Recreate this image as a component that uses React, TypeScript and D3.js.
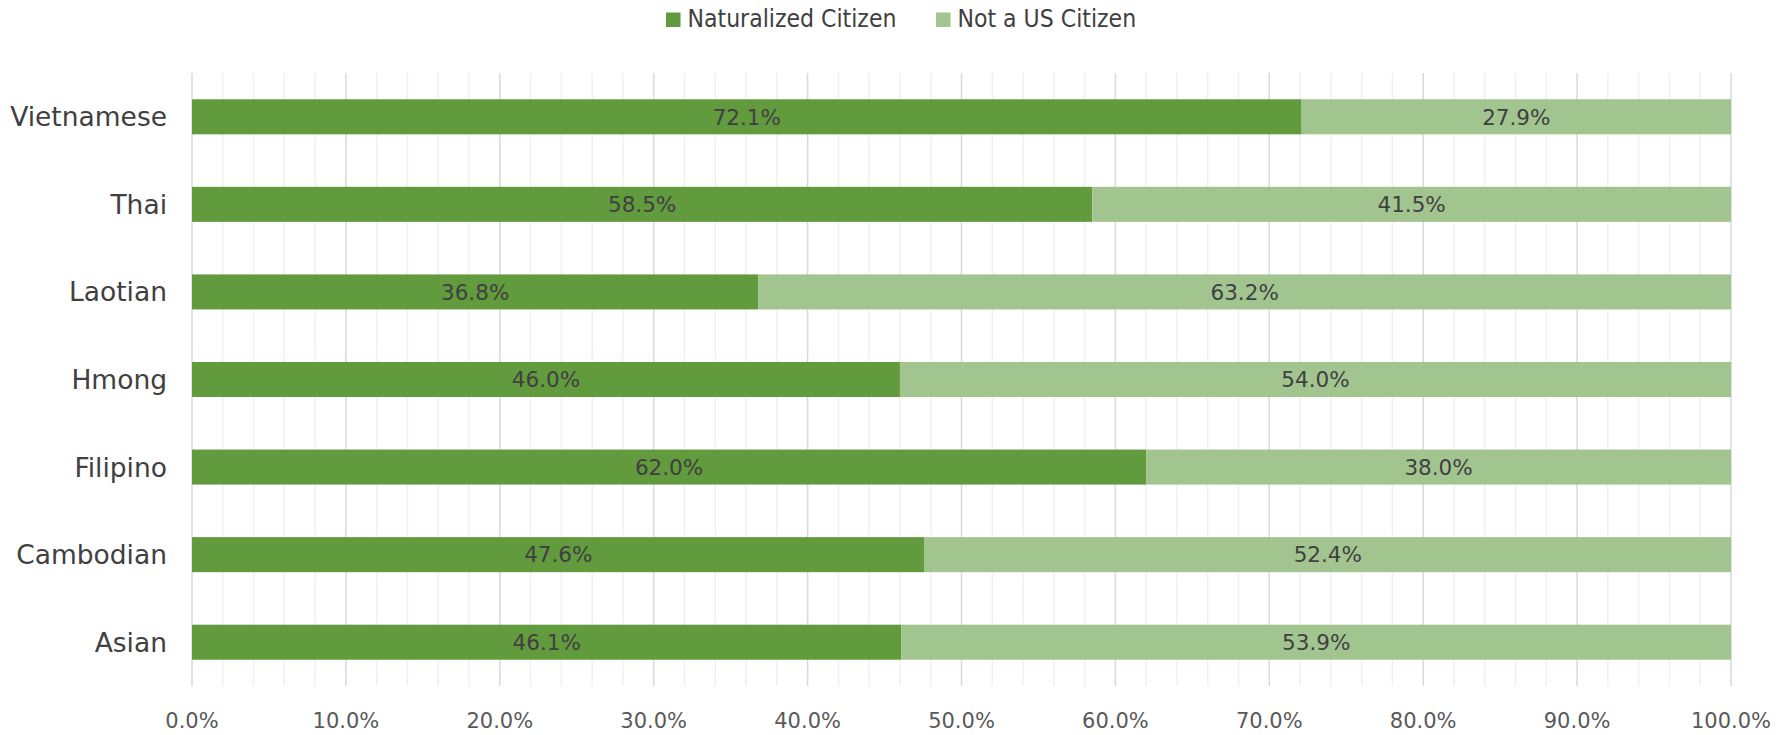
import React from "react";
import * as d3 from "d3";

const categories = ["Vietnamese", "Thai", "Laotian", "Hmong", "Filipino", "Cambodian", "Asian"];
const naturalized = [72.1, 58.5, 36.8, 46.0, 62.0, 47.6, 46.1];
const notCitizen = [27.9, 41.5, 63.2, 54.0, 38.0, 52.4, 53.9];
const seriesNames = ["Naturalized Citizen", "Not a US Citizen"];
const seriesColors = ["#629A3E", "#A2C590"];
const tickValues = [0, 10, 20, 30, 40, 50, 60, 70, 80, 90, 100];
const minorTicks = d3.range(0, 101, 2);

const W = 1792, H = 735;
const left = 192, right = 1731, top = 73, bottom = 686;

export default function App() {
  const x = d3.scaleLinear().domain([0, 100]).range([left, right]);
  const y = d3.scaleBand<string>().domain(categories).range([top, bottom]).paddingInner(0.6).paddingOuter(0.3);
  const band = d3.scaleBand<string>().domain(categories).range([top, bottom]);
  const stack = categories.map((c, i) => [
    { s: 0, x0: 0, x1: naturalized[i], v: naturalized[i] },
    { s: 1, x0: naturalized[i], x1: naturalized[i] + notCitizen[i], v: notCitizen[i] },
  ]);
  const font = "'DejaVu Sans', sans-serif";
  const legendFont = "'DejaVu Sans Condensed', 'Liberation Sans Narrow', sans-serif";
  const legendX = [666, 936];
  return (
    <svg width={W} height={H} style={{ position: "absolute", left: 0, top: 0, background: "#fff" }}>
      {minorTicks.filter((t) => t % 10 !== 0).map((t) => (
        <line key={"m" + t} x1={x(t)} x2={x(t)} y1={top} y2={bottom} stroke="#F0F0F0" strokeWidth={1.5} />
      ))}
      {tickValues.map((t) => (
        <line key={"g" + t} x1={x(t)} x2={x(t)} y1={top} y2={bottom} stroke="#D9D9D9" strokeWidth={1.5} />
      ))}
      {categories.map((c, i) =>
        stack[i].map((seg) => (
          <rect key={c + seg.s} x={x(seg.x0)} y={y(c)} width={x(seg.x1) - x(seg.x0)} height={y.bandwidth()} fill={seriesColors[seg.s]} />
        ))
      )}
      {categories.map((c, i) =>
        stack[i].map((seg) => (
          <text key={"l" + c + seg.s} x={(x(seg.x0) + x(seg.x1)) / 2} y={(band(c) as number) + band.bandwidth() / 2} dy="0.36em"
            textAnchor="middle" fontFamily={font} fontSize={21.5} fill="#404040">
            {seg.v.toFixed(1) + "%"}
          </text>
        ))
      )}
      {categories.map((c) => (
        <text key={"c" + c} x={167} y={(band(c) as number) + band.bandwidth() / 2} dy="0.36em" textAnchor="end"
          fontFamily={font} fontSize={26.5} fill="#404040">{c}</text>
      ))}
      {tickValues.map((t) => (
        <text key={"t" + t} x={x(t)} y={720} dy="0.36em" textAnchor="middle" fontFamily={font} fontSize={21} fill="#595959">
          {t.toFixed(1) + "%"}
        </text>
      ))}
      <g>
        {seriesNames.map((n, i) => (
          <g key={n}>
            <rect x={legendX[i]} y={12.5} width={14.5} height={14.5} fill={seriesColors[i]} />
            <text x={legendX[i] + 21.5} y={26.7} fontFamily={legendFont} fontSize={24.5} fill="#404040">{n}</text>
          </g>
        ))}
      </g>
    </svg>
  );
}
